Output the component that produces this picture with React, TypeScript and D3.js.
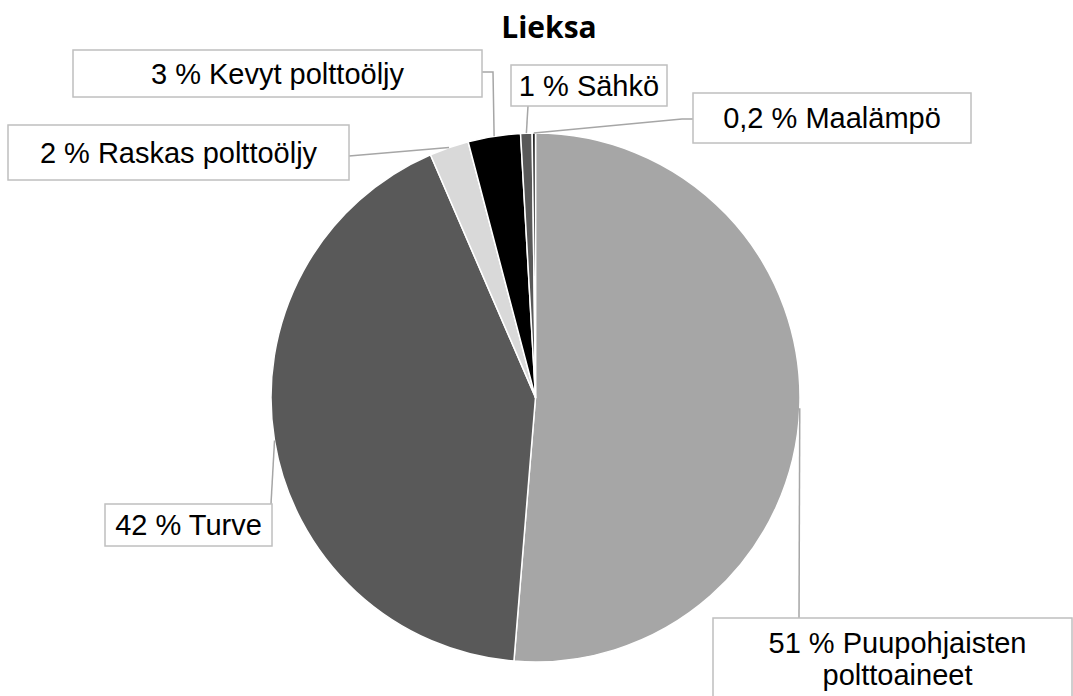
import React from "react";
import * as d3 from "d3";

const categories = [
  "Puupohjaisten polttoaineet",
  "Turve",
  "Raskas polttoöljy",
  "Kevyt polttoöljy",
  "Sähkö",
  "Maalämpö",
];
const values = [51.3, 42.2, 2.4, 3.2, 0.7, 0.2];
const pctLabels = ["51 %", "42 %", "2 %", "3 %", "1 %", "0,2 %"];
const colors = ["#a6a6a6", "#595959", "#d9d9d9", "#000000", "#595959", "#262626"];

const W = 1073;
const H = 696;
const CX = 535.5;
const CY = 397.5;
const R = 264.5;
const FONT = "'Liberation Sans', Arial, sans-serif";
const FS = 29;

// label box layout (box rect, extra leader points from pie edge to box)
const layout = [
  { box: [713, 618, 359, 100], lines: ["51 % Puupohjaisten", "polttoaineet"], via: [[799, 618]], textY: 653 },
  { box: [105, 504, 167, 42], lines: null, via: [[271, 504]], textY: 535 },
  { box: [8, 125, 341, 55], lines: null, via: [[349, 156]], textY: 163 },
  { box: [73, 50, 409, 47], lines: null, via: [[493, 72], [482, 72]], textY: 84 },
  { box: [511, 65, 156, 41], lines: null, via: [[528, 106]], textY: 96 },
  { box: [693, 93, 278, 50], lines: null, via: [[682, 119], [693, 119]], textY: 128 },
];

export default function App() {
  const pie = d3.pie<number>().sort(null).value((d) => d)(values);
  const arc = d3.arc<d3.PieArcDatum<number>>().innerRadius(0).outerRadius(R);
  const line = d3.line();

  return (
    <svg
      width={W}
      height={H}
      style={{ position: "absolute", left: 0, top: 0, background: "#fff" }}
    >
      <rect x={0} y={0} width={W} height={H} fill="#fff" />
      <text
        x={549}
        y={38}
        textAnchor="middle"
        fontFamily="'Open Sans', sans-serif"
        fontWeight="bold"
        fontSize={30}
        fill="#000"
      >
        Lieksa
      </text>
      <g transform={`translate(${CX},${CY})`}>
        {pie.map((d, i) => (
          <path key={i} d={arc(d) || ""} fill={colors[i]} stroke="#fff" strokeWidth={1.5} strokeLinejoin="round" />
        ))}
      </g>
      {pie.map((d, i) => {
        const a = (d.startAngle + d.endAngle) / 2;
        const px = CX + R * Math.sin(a);
        const py = CY - R * Math.cos(a);
        const L = layout[i];
        const pts: [number, number][] = [[px, py], ...(L.via as [number, number][])];
        return (
          <path key={"l" + i} d={line(pts) || ""} fill="none" stroke="#a6a6a6" strokeWidth={1.5} />
        );
      })}
      {layout.map((L, i) => {
        const [bx, by, bw, bh] = L.box;
        const lines = L.lines || [`${pctLabels[i]} ${categories[i]}`];
        return (
          <g key={"b" + i}>
            <rect x={bx} y={by} width={bw} height={bh} fill="#fff" stroke="#bfbfbf" strokeWidth={1.5} />
            {lines.map((t, j) => (
              <text
                key={j}
                x={bx + bw / 2 + (L.lines ? 5 : 0)}
                y={L.textY + j * 32}
                textAnchor="middle"
                fontFamily={FONT}
                fontSize={FS}
                fill="#000"
              >
                {t}
              </text>
            ))}
          </g>
        );
      })}
    </svg>
  );
}
